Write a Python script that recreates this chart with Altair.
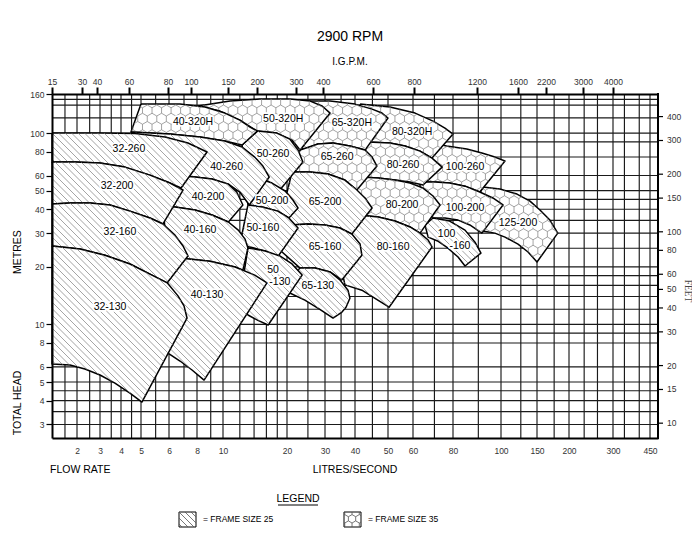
import math
import altair as alt
import numpy as np
import pandas as pd

alt.data_transformers.disable_max_rows()

FONT = "Liberation Sans"
W, H = 606, 344

# ---------------- axes: knots, tick labels, grid ----------------
X_KNOTS = [1.1, 2, 3, 4, 5, 6, 8, 10, 20, 30, 40, 50, 60, 80, 100, 150, 200, 300, 450, 490]
X_RANGE = [0, 25, 48, 69, 89, 117, 145, 171, 235, 273, 303, 336, 361, 401, 449, 485, 517, 561, 598, 606]
X_LABELS = [2, 3, 4, 5, 6, 8, 10, 20, 30, 40, 50, 60, 80, 100, 150, 200, 300, 450]
X_GRID = [1.5, 2, 2.5, 3, 3.5, 4, 4.5, 5, 5.5, 6, 7, 8, 9, 10, 12, 14, 16, 18, 20, 25, 30, 35,
          40, 45, 50, 60, 70, 80, 90, 100, 125, 150, 175, 200, 230, 260, 300, 340, 400, 450]

IGPM_KNOTS = [15, 30, 40, 60, 80, 100, 150, 200, 300, 400, 600, 800, 1200, 1600, 2200, 3000, 4000, 6400]
IGPM_RANGE = [0, 30, 45, 77, 116, 139, 176, 205, 244, 271, 321, 362, 425, 466, 494, 531, 561, 606]
IGPM_LABELS = [15, 30, 40, 60, 80, 100, 150, 200, 300, 400, 600, 800, 1200, 1600, 2200, 3000, 4000]

Y_DOMAIN = [2.55, 160]
Y_LABELS = [3, 4, 5, 6, 8, 10, 20, 30, 40, 50, 60, 80, 100, 160]
Y_GRID = [3, 3.5, 4, 4.5, 5, 6, 8, 9, 10, 12, 14, 16, 18, 20, 25, 30, 35, 40, 45, 50, 60,
          75, 90, 100, 120, 140, 150]
FT_PER_M = 3.28084
FEET_LABELS = [10, 15, 20, 30, 40, 50, 60, 80, 100, 150, 200, 300, 400]

# ---------------- pump coverage regions (flow l/s, head m) ----------------
# frame 35 = honeycomb, frame 25 = hatched ; listed in drawing order
R_125_200 = ([91.9, 99.5, 119.7, 138.6, 154, 168.4, 180.8, 150, 135.6, 121.1, 104.6, 97.2, 91.9, 86.5],
             [52.2, 51.0, 48.0, 44.1, 39.6, 35.1, 30.0, 21.2, 23.9, 26.3, 28.6, 30.0, 30.8, 37.3])
R_100_260 = ([65.4, 76.4, 85.3, 91.5, 97.2, 104.6, 90.6, 84.6, 78.1, 70.3, 63.1, 60.9],
             [90.8, 85.5, 82.5, 78.6, 74.9, 71.4, 49.2, 52.8, 54.8, 55.5, 55.5, 72.3])
R_100_200 = ([63.1, 70.3, 78.1, 84.6, 90.6, 96.3, 102.3, 91.5, 86.5, 81.9, 75.5, 69.3, 63.1],
             [55.5, 55.5, 54.8, 52.8, 49.2, 45.8, 42.1, 30.0, 33.1, 35.1, 36.0, 36.0, 44.7])
R_100_160 = ([69.3, 78.1, 84.6, 88.6, 91.1, 84.6, 81.9, 77.0, 71.6, 66.9, 65.4],
             [36.0, 34.7, 31.1, 26.9, 23.6, 20.2, 22.5, 25.1, 27.3, 28.6, 33.1])
R_80_320H = ([41.4, 50.7, 60.9, 69.3, 75.5, 80, 68.8, 63.1, 56.6, 50.7, 43.6, 41.9],
             [141.7, 136.7, 127.2, 115.5, 106.2, 98.8, 74.0, 80.5, 85.5, 88.7, 89.7, 116.9])
R_80_260 = ([43.6, 50.7, 56.6, 63.1, 68.8, 74.0, 64.5, 58.7, 52.6, 46.8, 41.4, 41.9],
            [89.7, 88.7, 85.5, 80.5, 74.0, 66.4, 53.5, 55.5, 56.8, 58.2, 58.9, 72.3])
R_80_200 = ([41.4, 46.8, 52.6, 58.7, 64.5, 69.3, 72.9, 63.1, 58.7, 52.6, 46.8, 40.8, 40],
            [58.9, 58.2, 56.8, 54.8, 51.6, 46.9, 42.1, 30.0, 32.3, 34.7, 36.4, 37.3, 47.4])
R_80_160 = ([40.8, 46.8, 52.6, 58.7, 63.1, 66.9, 68.8, 50.4, 45.8, 41.9, 36.3, 34.6],
            [37.3, 36.4, 34.7, 32.3, 30.0, 27.6, 25.4, 12.3, 13.7, 15.1, 16.1, 21.7])
R_65_320H = ([23.0, 31.5, 40, 44.9, 48.0, 50, 42.8, 38.1, 32.4, 27.8, 23.7, 22.5],
             [146.9, 146.9, 141.7, 133.4, 127.2, 119.8, 81.5, 85.5, 88.7, 87.6, 81.5, 103.7])
R_65_260 = ([23.0, 27.8, 32.4, 38.1, 42.8, 44.9, 46.4, 40.5, 36.3, 30.9, 25.6, 21.1, 22.0],
            [81.5, 87.6, 88.7, 85.5, 81.5, 74.9, 67.2, 50.4, 56.8, 61.1, 62.6, 62.6, 72.3])
R_65_200 = ([21.1, 25.6, 30.9, 36.3, 40.5, 42.8, 44.9, 38.8, 34.6, 30, 25.0, 20.6, 19.6],
            [62.6, 62.6, 61.1, 56.8, 50.4, 45.8, 40.6, 29.7, 31.9, 33.1, 33.5, 33.1, 44.7])
R_65_160 = ([20.6, 25.0, 30, 34.6, 38.8, 41.4, 41.9, 35.3, 31.5, 27.0, 23.0, 18.5],
            [33.1, 33.5, 33.1, 31.9, 29.7, 26.3, 23.0, 17.1, 18.8, 19.7, 19.7, 24.5])
R_65_130 = ([23.0, 27.0, 31.5, 34.6, 37.4, 38.1, 36.7, 35.3, 32.4, 28.4, 24.2, 20.6, 20.2],
            [19.7, 19.7, 18.8, 17.1, 15.1, 13.7, 12.3, 11.6, 10.8, 12.0, 13.4, 14.6, 17.1])
R_50_320H = ([8.07, 10.8, 14.9, 20.6, 25.6, 29.1, 31.5, 23.0, 21.1, 17.9, 14.5, 12.0, 9.74],
             [138.4, 146.9, 150.5, 150.5, 146.9, 138.4, 127.2, 81.5, 91.9, 100, 102.4, 116.9, 130.3])
R_50_260 = ([14.5, 17.9, 20.6, 22.5, 23.7, 18.5, 16.6, 14.6, 12.7, 12.3],
            [102.4, 100, 93.0, 81.5, 70.6, 50.4, 54.8, 58.2, 59.6, 86.6])
R_50_200 = ([12.7, 14.6, 17.0, 19.6, 21.3, 22.5, 20.4, 18.1, 15.3, 13.1],
            [59.6, 58.2, 54.8, 49.8, 44.7, 40.6, 36.0, 39.1, 41.1, 42.1])
R_50_160 = ([13.1, 15.3, 18.1, 20.4, 22.5, 17.9, 15.8, 13.4, 12.0],
            [42.1, 41.1, 39.1, 36.0, 31.9, 22.2, 24.2, 25.4, 26.0])
R_50_130 = ([13.1, 15.8, 18.5, 21.1, 23.5, 16.3, 14.6, 13.1, 12.0],
            [25.1, 24.2, 22.8, 20.7, 18.1, 9.93, 10.5, 11.2, 13.4])
R_40_320H = ([5.0, 6.72, 8.57, 10.2, 12.0, 13.4, 14.5, 12.3, 10.2, 8.21, 6.06, 4.47],
             [141.7, 141.7, 136.7, 127.2, 116.9, 107.5, 102.4, 86.6, 90.8, 95.3, 98.8, 101.2])
R_40_260 = ([4.47, 6.06, 8.21, 10.2, 12.3, 14.1, 15.4, 16.5, 13.3, 12.0, 10.6, 9.10, 7.84, 6.86, 5.30],
            [101.2, 98.8, 95.3, 90.8, 84.5, 74.9, 67.2, 58.9, 42.1, 49.2, 54.1, 57.5, 58.9, 59.6, 81.5])
R_40_200 = ([6.86, 7.84, 9.10, 10.6, 11.6, 12.4, 10.6, 9.10, 7.84, 6.38, 5.77, 6.06],
            [59.6, 58.9, 57.5, 54.1, 49.2, 42.1, 34.3, 37.3, 39.6, 41.1, 41.1, 50.4])
R_40_160 = ([5.77, 6.38, 7.84, 9.10, 10.6, 11.8, 12.7, 13.1, 12.4, 11.4, 8.94, 6.86, 5.85],
            [41.1, 41.1, 39.6, 37.3, 34.3, 31.1, 27.9, 25.1, 19.2, 19.95, 21.4, 22.2, 31.1])
R_40_130 = ([6.86, 8.94, 11.4, 14.1, 16.1, 8.50, 7.60, 6.72, 5.96, 5.93],
            [22.2, 21.4, 19.95, 18.1, 16.5, 5.12, 5.78, 6.44, 7.09, 16.5])
R_32_260 = ([1.1, 3.0, 4.68, 5.85, 7.29, 8.72, 6.79, 6.06, 5.30, 4.18, 3.0, 1.91, 1.1],
            [100, 100, 99.5, 95.3, 88.7, 79.6, 51.6, 54.8, 60.3, 66.4, 69.7, 70.6, 70.6])
R_32_200 = ([1.1, 1.91, 3.0, 4.18, 5.30, 6.06, 6.93, 5.77, 5.30, 4.42, 3.44, 2.52, 1.69, 1.1],
            [70.6, 70.6, 69.7, 66.4, 60.3, 54.8, 50.4, 33.5, 36.0, 39.1, 42.1, 43.1, 43.1, 42.6])
R_32_160 = ([1.1, 1.69, 2.52, 3.44, 4.42, 5.30, 5.77, 6.38, 6.93, 7.29, 5.93, 5.30, 4.42, 3.21, 2.11, 1.1],
            [42.6, 43.1, 43.1, 42.1, 39.1, 36.0, 33.5, 29.3, 25.7, 22.8, 16.5, 18.3, 20.7, 23.0, 24.8, 25.7])
R_32_130 = ([1.1, 2.11, 3.21, 4.42, 5.30, 5.93, 6.58, 7.00, 7.22, 5.03, 4.42, 3.68, 3.0, 2.30, 1.69, 1.1],
            [25.7, 24.8, 23.0, 20.7, 18.3, 16.5, 14.1, 12.5, 10.8, 3.93, 4.38, 4.94, 5.44, 5.85, 6.14, 6.21])

REGIONS = [
    (35, R_125_200), (35, R_100_260), (35, R_100_200), (25, R_100_160),
    (35, R_80_320H), (35, R_80_260), (35, R_80_200), (25, R_80_160),
    (35, R_65_320H), (35, R_65_260), (25, R_65_200), (25, R_65_160), (25, R_65_130),
    (35, R_50_320H), (25, R_50_260), (25, R_50_200), (25, R_50_160), (25, R_50_130),
    (35, R_40_320H), (25, R_40_260), (25, R_40_200), (25, R_40_160), (25, R_40_130),
    (25, R_32_260), (25, R_32_200), (25, R_32_160), (25, R_32_130),
]

LABEL_TEXT = ["40-320H", "50-320H", "65-320H", "80-320H", "32-260", "40-260", "50-260", "65-260",
              "80-260", "100-260", "32-200", "40-200", "50-200", "65-200", "80-200", "100-200",
              "125-200", "32-160", "40-160", "50-160", "65-160", "80-160", "100", "-160", "50",
              "-130", "65-130", "40-130", "32-130"]
LABEL_Q = [7.68, 19.2, 38.8, 59.6, 4.37, 10.4, 17.2, 33.7, 55.8, 84.6, 3.79, 8.79, 17.0, 30, 55.4,
           84.6, 121.1, 3.94, 8.21, 15.4, 30, 51.9, 76.4, 82.6, 17.2, 18.5, 27.8, 8.72, 3.44]
LABEL_H = [114.2, 118.4, 112.8, 101.2, 82.5, 66.4, 77.7, 74.9, 68.0, 66.4, 52.8, 46.3, 44.1, 43.6,
           42.1, 40.6, 33.9, 30.4, 31.1, 31.9, 25.4, 25.4, 29.6, 25.7, 19.2, 16.7, 15.9, 14.2, 12.3]

# ---------------- mapping helpers (mirror of the scales, for pattern clipping) ----------------
LX = np.log10(X_KNOTS)
LY0, LY1 = math.log10(Y_DOMAIN[0]), math.log10(Y_DOMAIN[1])


def x_px(v):
    return float(np.interp(math.log10(v), LX, X_RANGE))


def px_x(p):
    return float(10 ** np.interp(p, X_RANGE, LX))


def y_px(v):
    return (LY1 - math.log10(v)) / (LY1 - LY0) * H


def px_y(p):
    return 10 ** (LY1 - p / H * (LY1 - LY0))


def inside(pt, poly):
    x, y = pt
    c = False
    n = len(poly)
    for k in range(n):
        ax, ay = poly[k]
        bx, by = poly[(k + 1) % n]
        if (ay > y) != (by > y):
            xi = ax + (y - ay) * (bx - ax) / (by - ay)
            if xi > x:
                c = not c
    return c


def seg_clip(p0, p1, poly):
    x0, y0 = p0
    x1, y1 = p1
    dx, dy = x1 - x0, y1 - y0
    ts = [0.0, 1.0]
    n = len(poly)
    for k in range(n):
        ax, ay = poly[k]
        bx, by = poly[(k + 1) % n]
        ex, ey = bx - ax, by - ay
        den = dx * ey - dy * ex
        if abs(den) < 1e-12:
            continue
        t = ((ax - x0) * ey - (ay - y0) * ex) / den
        s = ((ax - x0) * dy - (ay - y0) * dx) / den
        if 0 <= t <= 1 and 0 <= s <= 1:
            ts.append(t)
    ts.sort()
    out = []
    for a, b in zip(ts[:-1], ts[1:]):
        if b - a < 1e-6:
            continue
        m = (a + b) / 2
        if inside((x0 + m * dx, y0 + m * dy), poly):
            out.append(((x0 + a * dx, y0 + a * dy), (x0 + b * dx, y0 + b * dy)))
    return out


def hatch(poly, S=6.5, off=0.0):
    xs = [p[0] for p in poly]
    ys = [p[1] for p in poly]
    xmin, xmax, ymin, ymax = min(xs), max(xs), min(ys), max(ys)
    c = math.floor((xmin - ymax - off) / S) * S + off
    segs = []
    while c <= xmax - ymin + S:
        segs += seg_clip((xmin - 2, xmin - 2 - c), (xmax + 2, xmax + 2 - c), poly)
        c += S
    return segs


def hexes(poly, R=5.5, ox=0.0, oy=0.0):
    hw = math.sqrt(3) * R
    xs = [p[0] for p in poly]
    ys = [p[1] for p in poly]
    xmin, xmax, ymin, ymax = min(xs), max(xs), min(ys), max(ys)
    segs = []
    for j in range(math.floor((ymin - oy) / (1.5 * R)) - 1, math.ceil((ymax - oy) / (1.5 * R)) + 2):
        cy = oy + j * 1.5 * R
        sh = (j % 2) * hw / 2
        for i in range(math.floor((xmin - ox - sh) / hw) - 1, math.ceil((xmax - ox - sh) / hw) + 2):
            cx = ox + i * hw + sh
            top = (cx, cy - R)
            ur = (cx + hw / 2, cy - R / 2)
            lr = (cx + hw / 2, cy + R / 2)
            bot = (cx, cy + R)
            for a, b in ((top, ur), (ur, lr), (lr, bot)):
                segs += seg_clip(a, b, poly)
    return segs


# ---------------- scales ----------------
XS = alt.Scale(type="log", domain=X_KNOTS, range=X_RANGE, nice=False, zero=False)
YS = alt.Scale(type="log", domain=Y_DOMAIN, nice=False, zero=False)
IS = alt.Scale(type="log", domain=IGPM_KNOTS, range=IGPM_RANGE, nice=False, zero=False)

XQ = alt.X("q:Q", scale=XS, axis=None)
YH = alt.Y("h:Q", scale=YS, axis=None)

lab_axis = dict(labelFont=FONT, labelFontSize=8.5, labelColor="#333", domainColor="black",
                domainWidth=2, grid=False, title=None, labelOverlap=False, labelFlush=False,
                labelBound=False, format="d", zindex=1)

grid_x = alt.Chart(pd.DataFrame({"v": X_GRID})).mark_rule(color="#1a1a1a", strokeWidth=1.15).encode(
    x=alt.X("v:Q", scale=XS, axis=None))
grid_y = alt.Chart(pd.DataFrame({"v": Y_GRID})).mark_rule(color="#1a1a1a", strokeWidth=1.15).encode(
    y=alt.Y("v:Q", scale=YS, axis=None))

main_layers = [grid_x, grid_y]
for frame, (qs, hs) in REGIONS:
    pts = [(x_px(q), y_px(h)) for q, h in zip(qs, hs)]
    df = pd.DataFrame({"q": list(qs) + [qs[0]], "h": list(hs) + [hs[0]], "i": list(range(len(qs) + 1))})
    main_layers.append(
        alt.Chart(df).mark_line(fill="white", stroke="black", strokeWidth=1.5, strokeJoin="round")
        .encode(x=XQ, y=YH, order="i:Q"))
    segs = hatch(pts) if frame == 25 else hexes(pts)
    sd = pd.DataFrame([(px_x(a[0]), px_y(a[1]), px_x(b[0]), px_y(b[1])) for a, b in segs],
                      columns=["q", "h", "q2", "h2"])
    main_layers.append(
        alt.Chart(sd).mark_rule(color="#7d7d7d", strokeWidth=0.7)
        .encode(x=XQ, y=YH, x2="q2:Q", y2="h2:Q"))

labels = pd.DataFrame({"t": LABEL_TEXT, "q": LABEL_Q, "h": LABEL_H})
main_layers.append(alt.Chart(labels).mark_text(font=FONT, fontSize=10.5, color="white", stroke="white",
                                               strokeWidth=3.5, strokeJoin="round")
                   .encode(x=XQ, y=YH, text="t:N"))
main_layers.append(alt.Chart(labels).mark_text(font=FONT, fontSize=10.5, color="black")
                   .encode(x=XQ, y=YH, text="t:N"))

# right-hand FEET scale: ticks and labels placed through the metre scale (1 m = 3.28084 ft)
feet_df = pd.DataFrame({"h": [v / FT_PER_M for v in FEET_LABELS], "s": [f"{v}" for v in FEET_LABELS]})
main_layers.append(alt.Chart(feet_df).mark_rule(color="black", strokeWidth=1.2)
                   .encode(y=YH, x=alt.value(W), x2=alt.value(W + 5)))
main_layers.append(alt.Chart(feet_df).mark_text(font=FONT, fontSize=8.5, color="#333", align="left",
                                                baseline="middle")
                   .encode(y=YH, x=alt.value(W + 9), text="s:N"))

main = alt.layer(*main_layers)

# ---------------- axes (each on its own layer) ----------------
flow_axis = alt.Chart(pd.DataFrame({"v": X_LABELS})).mark_point(opacity=0).encode(
    x=alt.X("v:Q", scale=XS, axis=alt.Axis(orient="bottom", values=X_LABELS, ticks=False,
                                           labelPadding=8, **lab_axis)))
head_axis = alt.Chart(pd.DataFrame({"v": Y_LABELS})).mark_point(opacity=0).encode(
    y=alt.Y("v:Q", scale=YS, axis=alt.Axis(orient="left", values=Y_LABELS, tickSize=6, tickWidth=1.2,
                                           tickColor="black", labelPadding=2, **lab_axis)))
igpm_axis = alt.Chart(pd.DataFrame({"g": IGPM_LABELS})).mark_point(opacity=0).encode(
    x=alt.X("g:Q", scale=IS, axis=alt.Axis(orient="top", values=IGPM_LABELS, tickSize=7, tickWidth=2,
                                           tickColor="black", labelPadding=1, **lab_axis)))

# ---------------- decorations: titles, right frame line and legend (pixel positions) ----------------
one = pd.DataFrame({"a": [0]})


def txt(s, x, y, size=10.5, align="center", angle=0, font=FONT, color="black"):
    return alt.Chart(one).mark_text(text=s, font=font, fontSize=size, align=align, baseline="middle",
                                    angle=angle, color=color).encode(x=alt.value(x), y=alt.value(y))


SW1 = [(127, 418), (144, 418), (144, 433), (127, 433)]
SW2 = [(292, 418), (309, 418), (309, 433), (292, 433)]
sw_segs = hatch(SW1, S=6.0, off=127 - 418) + hexes(SW2, R=4.2, ox=296.4, oy=418.5)
sw_df = pd.DataFrame([(a[0], a[1], b[0], b[1]) for a, b in sw_segs], columns=["x", "y", "x2", "y2"])
box_df = pd.DataFrame({"x": [127, 292], "y": [418, 418], "x2": [144, 309], "y2": [433, 433]})

deco = alt.layer(
    alt.Chart(one).mark_rule(color="black", strokeWidth=2).encode(
        x=alt.value(W), y=alt.value(-1), y2=alt.value(H + 1)),
    txt("2900 RPM", 298, -57, size=14),
    txt("I.G.P.M.", 298, -32, size=10),
    txt("FLOW RATE", -2, 376, align="left"),
    txt("LITRES/SECOND", 303, 376),
    txt("TOTAL HEAD", -34, 309, angle=270),
    txt("METRES", -34, 158, angle=270),
    txt("FEET", 636, 197, size=9.5, angle=90, font="Liberation Serif", color="#444"),
    txt("LEGEND", 246, 405),
    alt.Chart(one).mark_rule(color="black", strokeWidth=1).encode(
        x=alt.value(226), x2=alt.value(266), y=alt.value(411)),
    alt.Chart(box_df).mark_rect(fill="white", stroke="black", strokeWidth=1).encode(
        x=alt.X("x:Q", scale=None, axis=None), x2="x2:Q",
        y=alt.Y("y:Q", scale=None, axis=None), y2="y2:Q"),
    alt.Chart(sw_df).mark_rule(color="#555", strokeWidth=0.8).encode(
        x=alt.X("x:Q", scale=None, axis=None), x2="x2:Q",
        y=alt.Y("y:Q", scale=None, axis=None), y2="y2:Q"),
    txt("= FRAME SIZE 25", 151, 425, size=8.5, align="left"),
    txt("= FRAME SIZE 35", 316, 425, size=8.5, align="left"),
)

chart = (
    alt.layer(main, flow_axis, head_axis, igpm_axis, deco)
    .resolve_scale(x="independent", y="independent")
    .properties(width=W, height=H, autosize=alt.AutoSizeParams(type="none"),
                padding={"left": 44, "top": 86, "right": 34, "bottom": 114})
    .configure_view(stroke=None)
)

chart.save("out.html", embed_options={"renderer": "svg", "actions": False})
